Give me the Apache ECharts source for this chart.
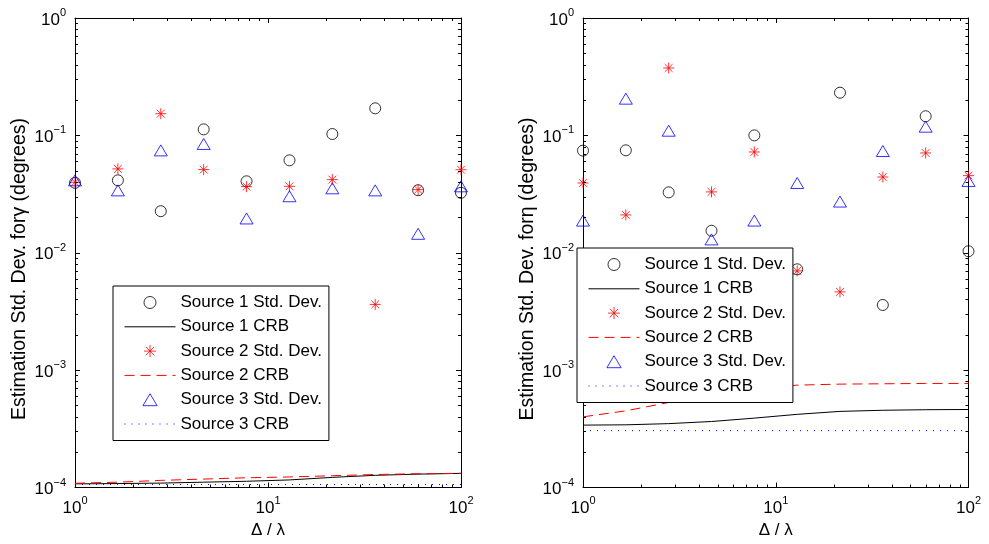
<!DOCTYPE html>
<html><head><meta charset="utf-8">
<script src="https://cdn.jsdelivr.net/npm/echarts@6/dist/echarts.min.js"></script>
<style>html,body{margin:0;padding:0;background:#fff}#c{width:989px;height:544px}</style>
</head><body><div id="c"></div>
<script>
// x positions (Δ/λ)
const ratio = [1, 1.668, 2.783, 4.642, 7.743, 12.92, 21.54, 35.94, 59.95, 100];

// Left panel (γ)
const leftS1 = [0.0394, 0.0414, 0.0226, 0.1125, 0.0406, 0.0613, 0.1027, 0.170, 0.0341, 0.0324];
const leftS2 = [0.0398, 0.0518, 0.153, 0.0511, 0.0366, 0.0368, 0.0420, 0.00363, 0.0345, 0.0510];
const leftS3 = [0.0414, 0.0340, 0.0745, 0.0845, 0.0196, 0.0303, 0.0354, 0.0340, 0.0145, 0.0368];
const leftCRB1 = [1.074e-4, 1.08e-4, 1.09e-4, 1.11e-4, 1.13e-4, 1.16e-4, 1.22e-4, 1.27e-4, 1.30e-4, 1.32e-4];
const leftCRB2 = [1.087e-4, 1.11e-4, 1.15e-4, 1.18e-4, 1.21e-4, 1.23e-4, 1.26e-4, 1.29e-4, 1.31e-4, 1.32e-4];
const leftCRB3 = [1.06e-4, 1.06e-4, 1.06e-4, 1.06e-4, 1.06e-4, 1.06e-4, 1.06e-4, 1.06e-4, 1.06e-4, 1.06e-4];

// Right panel (η)
const rightS1 = [0.0741, 0.0746, 0.0327, 0.0154, 0.100, 0.00723, 0.231, 0.00359, 0.1455, 0.0103];
const rightS2 = [0.0393, 0.0210, 0.375, 0.0330, 0.0722, 0.0070, 0.00464, 0.0442, 0.0708, 0.0454];
const rightS3 = [0.0188, 0.2055, 0.1096, 0.0130, 0.0188, 0.0393, 0.0273, 0.0736, 0.1186, 0.0409];
const rightCRB1 = [3.40e-4, 3.42e-4, 3.50e-4, 3.65e-4, 3.90e-4, 4.20e-4, 4.45e-4, 4.55e-4, 4.60e-4, 4.62e-4];
const rightCRB2 = [4.00e-4, 4.50e-4, 5.30e-4, 6.20e-4, 7.00e-4, 7.45e-4, 7.60e-4, 7.65e-4, 7.70e-4, 7.70e-4];
const rightCRB3 = [3.05e-4, 3.05e-4, 3.05e-4, 3.05e-4, 3.05e-4, 3.05e-4, 3.05e-4, 3.05e-4, 3.05e-4, 3.05e-4];

const seriesNames = ['Source 1 Std. Dev.', 'Source 1 CRB', 'Source 2 Std. Dev.', 'Source 2 CRB', 'Source 3 Std. Dev.', 'Source 3 CRB'];
const yNames = ['Estimation Std. Dev. for\u03b3 (degrees)', 'Estimation Std. Dev. for\u03b7 (degrees)'];
const xName = '\u0394 / \u03bb';

const X_MIN = 1, X_MAX = 100, Y_MIN = 1e-4, Y_MAX = 1;
const FONT = '"Liberation Sans", Arial, Helvetica, sans-serif';
const STAR = 'path://M0,-10L0,10M-10,0L10,0M-7.07,-7.07L7.07,7.07M-7.07,7.07L7.07,-7.07';
const TRI = 'path://M0,11L6.5,0L13,11Z';

// minor tick positions (2..9 within each decade)
const xMinor = [], yMinor = [];
for (let e = 0; e < 2; e++) for (let m = 2; m <= 9; m++) xMinor.push(m * Math.pow(10, e));
for (let e = -4; e < 0; e++) for (let m = 2; m <= 9; m++) yMinor.push(+(m * Math.pow(10, e)).toPrecision(3));

function fmt(v) {
  const e = Math.round(Math.log10(v));
  return '{b|10}{s|' + (e < 0 ? '\u2212' + (-e) : e) + '}';
}
const rich = {
  b: { fontSize: 17, fontFamily: FONT, color: '#000', verticalAlign: 'bottom' },
  s: { fontSize: 11, fontFamily: FONT, color: '#000', verticalAlign: 'bottom', padding: [0, 0, 10, 0] }
};

const grids = [
  { left: 75, top: 18, width: 386, height: 469.5 },
  { left: 583, top: 18, width: 385.5, height: 469.5 }
];

const xAxes = [], yAxes = [], series = [];
const panels = [
  { s1: leftS1, s2: leftS2, s3: leftS3, c1: leftCRB1, c2: leftCRB2, c3: leftCRB3 },
  { s1: rightS1, s2: rightS2, s3: rightS3, c1: rightCRB1, c2: rightCRB2, c3: rightCRB3 }
];

const zip = (a) => ratio.map((x, i) => [x, a[i]]);

panels.forEach((p, g) => {
  const axLine = { show: true, lineStyle: { color: '#000', width: 1 } };
  const tick = { show: true, inside: true, length: 5, lineStyle: { color: '#000', width: 1 } };
  xAxes.push({
    type: 'log', logBase: 10, gridIndex: g, min: X_MIN, max: X_MAX, position: 'bottom',
    axisLine: axLine, axisTick: tick, splitLine: { show: false },
    axisLabel: { formatter: fmt, rich: rich, margin: 8 },
    name: xName, nameLocation: 'middle', nameGap: 32,
    nameTextStyle: { fontSize: 17, fontFamily: FONT, color: '#000' }
  });
  xAxes.push({
    type: 'log', logBase: 10, gridIndex: g, min: X_MIN, max: X_MAX, position: 'top',
    axisLine: axLine, axisTick: tick, splitLine: { show: false }, axisLabel: { show: false }
  });
  yAxes.push({
    type: 'log', logBase: 10, gridIndex: g, min: Y_MIN, max: Y_MAX, position: 'left',
    axisLine: axLine, axisTick: tick, splitLine: { show: false },
    axisLabel: { formatter: fmt, rich: rich, margin: 9 }
  });
  yAxes.push({
    type: 'log', logBase: 10, gridIndex: g, min: Y_MIN, max: Y_MAX, position: 'right',
    axisLine: axLine, axisTick: tick, splitLine: { show: false }, axisLabel: { show: false }
  });
  const xi = 2 * g, yi = 2 * g;
  const hollow = (c) => ({ color: 'rgba(0,0,0,0)', borderColor: c, borderWidth: 1 });
  series.push(
    { type: 'scatter', name: seriesNames[0], xAxisIndex: xi, yAxisIndex: yi, data: zip(p.s1),
      symbol: 'circle', symbolSize: 11, itemStyle: hollow('#000'), z: 3 },
    { type: 'line', name: seriesNames[1], xAxisIndex: xi, yAxisIndex: yi, data: zip(p.c1),
      symbol: 'none', lineStyle: { color: '#000', width: 1, type: 'solid' }, itemStyle: { color: '#000' }, z: 2 },
    { type: 'scatter', name: seriesNames[2], xAxisIndex: xi, yAxisIndex: yi, data: zip(p.s2),
      symbol: STAR, symbolSize: 11, symbolKeepAspect: true, itemStyle: hollow('#f00'), z: 3 },
    { type: 'line', name: seriesNames[3], xAxisIndex: xi, yAxisIndex: yi, data: zip(p.c2),
      symbol: 'none', lineStyle: { color: '#f00', width: 1, type: [10, 6] }, itemStyle: { color: '#f00' }, z: 2 },
    { type: 'scatter', name: seriesNames[4], xAxisIndex: xi, yAxisIndex: yi, data: zip(p.s3),
      symbol: TRI, symbolSize: 13, symbolKeepAspect: true, itemStyle: hollow('#00f'), z: 3 },
    { type: 'line', name: seriesNames[5], xAxisIndex: xi, yAxisIndex: yi, data: zip(p.c3),
      symbol: 'none', lineStyle: { color: '#00f', width: 1, type: [1, 6] }, itemStyle: { color: '#00f' }, z: 2 }
  );
  // minor ticks along x (bottom and top)
  series.push({
    type: 'custom', xAxisIndex: xi, yAxisIndex: yi, silent: true, z: 5,
    data: xMinor.map(v => [v, Y_MIN]),
    renderItem: (params, api) => {
      const v = api.value(0);
      const pb = api.coord([v, Y_MIN]), pt = api.coord([v, Y_MAX]);
      const x = Math.round(pb[0]) + 0.5;
      return { type: 'group', children: [
        { type: 'line', shape: { x1: x, y1: pb[1], x2: x, y2: pb[1] - 3 }, style: { stroke: '#000', lineWidth: 1 } },
        { type: 'line', shape: { x1: x, y1: pt[1], x2: x, y2: pt[1] + 3 }, style: { stroke: '#000', lineWidth: 1 } }
      ] };
    }
  });
  // minor ticks along y (left and right)
  series.push({
    type: 'custom', xAxisIndex: xi, yAxisIndex: yi, silent: true, z: 5,
    data: yMinor.map(v => [X_MIN, v]),
    renderItem: (params, api) => {
      const v = api.value(1);
      const pl = api.coord([X_MIN, v]), pr = api.coord([X_MAX, v]);
      const y = Math.round(pl[1]) + 0.5;
      return { type: 'group', children: [
        { type: 'line', shape: { x1: pl[0], y1: y, x2: pl[0] + 3, y2: y }, style: { stroke: '#000', lineWidth: 1 } },
        { type: 'line', shape: { x1: pr[0], y1: y, x2: pr[0] - 3, y2: y }, style: { stroke: '#000', lineWidth: 1 } }
      ] };
    }
  });
});

const legendData = seriesNames.map((n, i) => (i % 2 === 1 ? { name: n, itemStyle: { opacity: 0 } } : { name: n }));
const legendBase = {
  orient: 'vertical', data: legendData, itemWidth: 51, itemHeight: 12, itemGap: 7.3,
  padding: [8, 7, 8, 11], borderColor: '#000', borderWidth: 1, backgroundColor: '#fff',
  selectedMode: false, z: 10, symbolKeepAspect: true,
  itemStyle: { borderWidth: 1 }, lineStyle: { width: 1 },
  textStyle: { fontSize: 17, fontFamily: FONT, color: '#000', lineHeight: 17 }
};

const option = {
  animation: false,
  backgroundColor: '#fff',
  grid: grids,
  xAxis: xAxes,
  yAxis: yAxes,
  legend: [
    Object.assign({}, legendBase, { left: 113, top: 286 }),
    Object.assign({}, legendBase, { left: 577, top: 248 })
  ],
  graphic: [
    { type: 'text', x: 20, y: 269, rotation: Math.PI / 2, silent: true,
      style: { text: yNames[0], fontSize: 19.5, fontFamily: FONT, fill: '#000', align: 'center', verticalAlign: 'middle' } },
    { type: 'text', x: 528, y: 269, rotation: Math.PI / 2, silent: true,
      style: { text: yNames[1], fontSize: 19.5, fontFamily: FONT, fill: '#000', align: 'center', verticalAlign: 'middle' } }
  ],
  series: series
};

const chart = echarts.init(document.getElementById('c'));
chart.setOption(option);
</script>
</body></html>
